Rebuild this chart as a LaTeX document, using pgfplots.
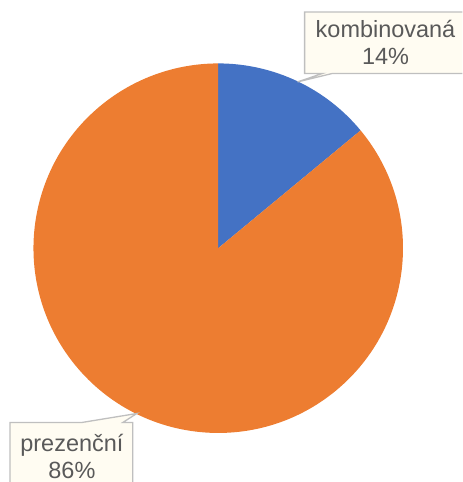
\documentclass[border=0pt]{standalone}
\usepackage{pgfplots}
\usepackage{pgfplotstable}
\usepackage{fontspec}
\setmainfont{Liberation Sans}
\pgfplotsset{compat=1.18}

\definecolor{cblue}{HTML}{4472C4}
\definecolor{corange}{HTML}{ED7D31}
\definecolor{ctext}{HTML}{595959}
\definecolor{cbox}{HTML}{FFFCF2}
\definecolor{cedge}{HTML}{BFBFBF}

% podíl forem studia (%)
\pgfplotstableread{
forma podil
kombinovana 14
prezencni 86
}\podily

\begin{document}
\begin{tikzpicture}
\pgfplotstablegetelem{0}{podil}\of\podily \let\pA\pgfplotsretval
\pgfplotstablegetelem{1}{podil}\of\podily \let\pB\pgfplotsretval
\begin{axis}[
    x=1pt, y=1pt,
    xmin=0, xmax=463,
    ymin=0, ymax=482,
    hide axis,
    clip=false,
]
% okraje obrazku
\path (axis cs:0,0) rectangle (axis cs:463,482);

% vysece, stred (218.5,233.5), polomer 185
\fill[cblue] (axis cs:218.5,233.5) -- ++(90:185pt)
    arc[start angle=90, end angle={90-\pA*3.6}, radius=185pt] -- cycle;
\fill[corange] (axis cs:218.5,233.5) -- ++({90-\pA*3.6}:185pt)
    arc[start angle={90-\pA*3.6}, end angle={90-\pA*3.6-\pB*3.6}, radius=185pt] -- cycle;

% popisek kombinovana
\begin{scope}
\clip (axis cs:0,0) rectangle (axis cs:463,482);
\draw[cedge, fill=cbox, line width=1.3pt]
    (axis cs:305,470) -- (axis cs:468,470) -- (axis cs:468,408.5)
    -- (axis cs:333,408.5) -- (axis cs:298,400) -- (axis cs:323,408.5)
    -- (axis cs:305,408.5) -- cycle;
% popisek prezencni
\draw[cedge, fill=cbox, line width=1.3pt]
    (axis cs:10,-10) -- (axis cs:10,59) -- (axis cs:82,59)
    -- (axis cs:137,68) -- (axis cs:123,59) -- (axis cs:133,59)
    -- (axis cs:133,-10) -- cycle;
\end{scope}
\node[text=ctext, font=\fontsize{23.5}{27}\selectfont, align=center]
    at (axis cs:386,439.5) {kombinovaná\\\pA\%};
\node[text=ctext, font=\fontsize{23.5}{27}\selectfont, align=center]
    at (axis cs:72,25) {prezenční\\\pB\%};
\end{axis}
\end{tikzpicture}
\end{document}
